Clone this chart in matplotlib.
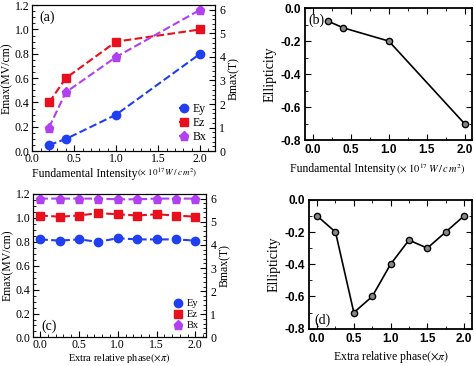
import matplotlib
matplotlib.use("Agg")
import matplotlib.pyplot as plt
from matplotlib.ticker import MultipleLocator, FormatStrFormatter

plt.rcParams['font.family'] = ['Liberation Serif', 'DejaVu Serif']
plt.rcParams['mathtext.fontset'] = 'stix'

# (a) field maxima vs fundamental intensity
intensity = [0.2, 0.4, 1.0, 2.0]
ey_a = [0.05, 0.10, 0.30, 0.80]
ez_a = [0.40, 0.60, 0.90, 1.00]
bx_a = [1.0, 2.5, 4.0, 6.0]

# (b) ellipticity vs intensity
ell_b = [-0.08, -0.12, -0.20, -0.70]

# (c) field maxima vs extra relative phase
phase = [0.0, 0.25, 0.5, 0.75, 1.0, 1.25, 1.5, 1.75, 2.0]
ey_c = [0.82, 0.81, 0.82, 0.80, 0.83, 0.82, 0.82, 0.82, 0.81]
ez_c = [1.02, 1.01, 1.02, 1.04, 1.03, 1.02, 1.03, 1.02, 1.01]
bx_c = [6.0, 6.0, 6.0, 6.0, 5.97, 5.97, 6.0, 6.0, 6.0]

# (d) ellipticity vs phase
ell_d = [-0.10, -0.20, -0.70, -0.60, -0.40, -0.25, -0.30, -0.20, -0.10]

c_ey = '#1f3ff0'
c_ez = '#e8101c'
c_bx = '#b040f0'

fig = plt.figure(figsize=(4.74, 3.66), dpi=100)


def field_panel(rect, x, ey, ez, bx, xlim, tag, tagpos, legsize):
    ax = fig.add_axes(rect)
    h1, = ax.plot(x, ey, '--', color=c_ey, marker='o', ms=6, lw=1.5, label='Ey')
    h2, = ax.plot(x, ez, '--', color=c_ez, marker='s', ms=6, lw=1.5, label='Ez')
    ax.set_xlim(*xlim)
    ax.set_ylim(0, 1.2)
    ax.xaxis.set_major_locator(MultipleLocator(0.5))
    ax.xaxis.set_minor_locator(MultipleLocator(0.1))
    ax.yaxis.set_major_locator(MultipleLocator(0.2))
    ax.yaxis.set_minor_locator(MultipleLocator(0.05))
    ax.tick_params(which='both', direction='in', labelsize=8.5, pad=2)
    ax.tick_params(axis='x', pad=1)
    ax.tick_params(which='major', length=4)
    ax.tick_params(which='minor', length=2)
    ax.yaxis.set_major_formatter(FormatStrFormatter('%.1f'))
    ax.xaxis.set_major_formatter(FormatStrFormatter('%.1f'))
    ax.set_ylabel('Emax(MV/cm)', fontsize=8.5, labelpad=1)
    ax2 = ax.twinx()
    h3, = ax2.plot(x, bx, '--', color=c_bx, marker='p', ms=6.5, lw=1.5, label='Bx')
    ax2.set_ylim(0, 6.2)
    ax2.yaxis.set_major_locator(MultipleLocator(1))
    ax2.yaxis.set_minor_locator(MultipleLocator(0.2))
    ax2.tick_params(which='both', direction='in', labelsize=8.5, pad=3)
    ax2.tick_params(which='major', length=4)
    ax2.tick_params(which='minor', length=2)
    ax2.set_ylabel('Bmax(T)', fontsize=8.5, labelpad=2)
    ax.legend(handles=[h1, h2, h3], loc='lower right', frameon=False,
              fontsize=legsize, handlelength=0.8, handletextpad=0.4,
              labelspacing=0.15, borderaxespad=0.3)
    ax.text(tagpos[0], tagpos[1], tag, transform=ax.transAxes, fontsize=10)
    return ax


def ell_panel(rect, x, y, xlim, tag, tagpos):
    ax = fig.add_axes(rect)
    ax.plot(x, y, '-', color='black', lw=1.2, marker='o', ms=4.5,
            mfc='#888888', mec='black', mew=1.0)
    ax.set_xlim(*xlim)
    ax.set_ylim(-0.8, 0.0)
    ax.xaxis.set_major_locator(MultipleLocator(0.5))
    ax.xaxis.set_minor_locator(MultipleLocator(0.25))
    ax.yaxis.set_major_locator(MultipleLocator(0.2))
    ax.yaxis.set_minor_locator(MultipleLocator(0.1))
    ax.tick_params(which='both', direction='in', top=True, right=True, pad=3)
    ax.tick_params(which='major', length=4)
    ax.tick_params(which='minor', length=2.5)
    ax.xaxis.set_major_formatter(FormatStrFormatter('%.1f'))
    ax.yaxis.set_major_formatter(FormatStrFormatter('%.1f'))
    for lab in ax.get_xticklabels() + ax.get_yticklabels():
        lab.set_family('Liberation Sans')
        lab.set_fontweight('bold')
        lab.set_fontsize(8.5)
    for s in ax.spines.values():
        s.set_linewidth(1.3)
    ax.set_ylabel('Ellipticity', fontsize=10, labelpad=3)
    ax.text(tagpos[0], tagpos[1], tag, transform=ax.transAxes, fontsize=10)
    return ax


def intensity_label(ax, split, ypos, size_text, size_math):
    # text part and unit part are set at different sizes in the original
    ax.text(split, ypos, 'Fundamental Intensity', transform=ax.transAxes,
            ha='right', va='center', fontsize=size_text)
    ax.text(split, ypos, r'$\left(\times\ 10^{17}\,W\,/\,c\,m^2\right)$',
            transform=ax.transAxes, ha='left', va='center', fontsize=size_math)


ax_a = field_panel([0.068, 0.587, 0.386, 0.399], intensity, ey_a, ez_a, bx_a,
                   (0.0, 2.18), '(a)', (0.04, 0.89), 8.5)
intensity_label(ax_a, 0.575, -0.155, 8.5, 6.5)

ax_b = ell_panel([0.643, 0.617, 0.353, 0.361], intensity, ell_b,
                 (-0.11, 2.1), '(b)', (0.02, 0.88))
intensity_label(ax_b, 0.545, -0.22, 8.5, 7.5)

ax_c = field_panel([0.070, 0.078, 0.365, 0.392], phase, ey_c, ez_c, bx_c,
                   (-0.09, 2.14), '(c)', (0.05, 0.05), 7.5)
ax_c.set_xlabel(r'Extra relative phase$(\times\pi)$', fontsize=7.5, labelpad=0)

ax_d = ell_panel([0.652, 0.102, 0.344, 0.352], phase, ell_d,
                 (-0.11, 2.11), '(d)', (0.03, 0.04))
ax_d.set_xlabel(r'Extra relative phase$(\times\pi)$', fontsize=8.5, labelpad=3)

fig.savefig('out.png', dpi=100)
